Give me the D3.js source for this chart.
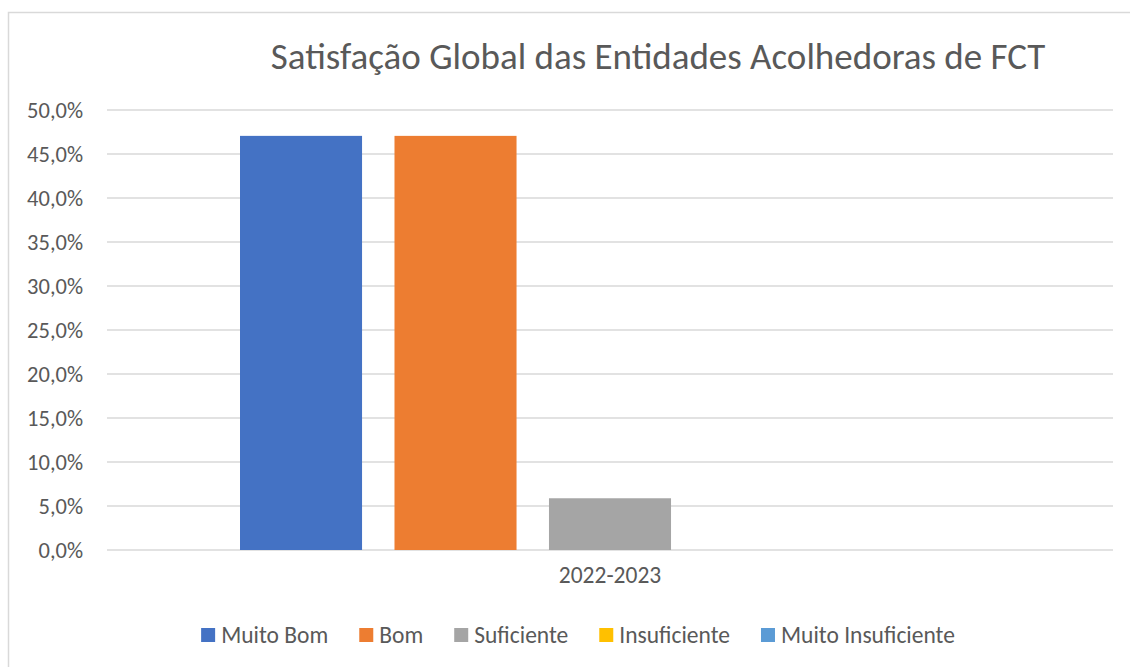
<!DOCTYPE html>
<html>
<head>
<meta charset="utf-8">
<script src="https://cdn.jsdelivr.net/npm/d3@7"></script>
<style>
  body { margin: 0; background: #fff; }
  svg { display: block; font-family: Carlito, Lato, "Open Sans", sans-serif; }
</style>
</head>
<body>
<div id="chart"></div>
<script>
const categories = ["2022-2023"];
const seriesNames = ["Muito Bom", "Bom", "Suficiente", "Insuficiente", "Muito Insuficiente"];
const seriesValues = [47.06, 47.06, 5.88, 0, 0];
const seriesColors = ["#4472C4", "#ED7D31", "#A5A5A5", "#FFC000", "#5B9BD5"];
const yTicks = [0, 5, 10, 15, 20, 25, 30, 35, 40, 45, 50];

const W = 1130, H = 667;
// plot area
const margin = { top: 110, right: 17, bottom: 117, left: 107 };
const width = W - margin.left - margin.right,
  height = H - margin.top - margin.bottom;

const svg = d3.select("#chart").append("svg")
  .attr("width", W)
  .attr("height", H);

// chart border
svg.append("rect")
  .attr("x", 8.5).attr("y", 12.5)
  .attr("width", 1140).attr("height", 680)
  .attr("fill", "none")
  .attr("stroke", "#d9d9d9")
  .attr("stroke-width", 1.5);

svg.append("text")
  .attr("x", 658).attr("y", 69)
  .attr("text-anchor", "middle")
  .attr("fill", "#595959")
  .style("font-size", "37px")
  .text("Satisfação Global das Entidades Acolhedoras de FCT");

const g = svg.append("g")
  .attr("transform", `translate(${margin.left},${margin.top})`);

const y = d3.scaleLinear().domain([0, 50]).range([height, 0]);

const x0 = d3.scaleBand()
  .domain(categories)
  .range([0, width])
  .paddingInner(0)
  .paddingOuter(133 / 740);

const x1 = d3.scaleBand()
  .domain(seriesNames)
  .range([0, x0.bandwidth()])
  .paddingInner(0.21)
  .paddingOuter(0);

// gridlines
g.append("g")
  .selectAll("line")
  .data(yTicks)
  .join("line")
  .attr("x1", 0).attr("x2", width)
  .attr("y1", d => y(d)).attr("y2", d => y(d))
  .attr("stroke", "#d9d9d9")
  .attr("stroke-width", 1.5);

// y axis labels
const fmt = d => d.toFixed(1).replace(".", ",") + "%";
const yAxis = g.append("g")
  .call(d3.axisLeft(y).tickValues(yTicks).tickFormat(fmt).tickSize(0).tickPadding(24))
  .attr("font-family", null)
  .attr("font-size", null);
yAxis.select(".domain").remove();
yAxis.selectAll("text")
  .attr("fill", "#595959")
  .style("font-size", "22.5px");

// bars
categories.forEach(cat => {
  g.append("g")
    .attr("transform", `translate(${x0(cat)},0)`)
    .selectAll("rect")
    .data(seriesNames.map((s, i) => ({ name: s, value: seriesValues[i], color: seriesColors[i] })))
    .join("rect")
    .attr("x", d => x1(d.name))
    .attr("width", x1.bandwidth())
    .attr("y", d => y(d.value))
    .attr("height", d => y(0) - y(d.value))
    .attr("fill", d => d.color);
});

// x axis labels
const xAxis = g.append("g")
  .attr("transform", `translate(0,${height})`)
  .call(d3.axisBottom(x0).tickSize(0).tickPadding(16))
  .attr("font-family", null)
  .attr("font-size", null);
xAxis.select(".domain").remove();
xAxis.selectAll("text")
  .attr("fill", "#595959")
  .style("font-size", "23.5px");

// legend
const legend = svg.append("g").attr("transform", "translate(0,635)");
const items = legend.selectAll("g")
  .data(seriesNames)
  .join("g");
items.append("rect")
  .attr("y", -7).attr("width", 14).attr("height", 14)
  .attr("fill", (d, i) => seriesColors[i]);
items.append("text")
  .attr("x", 20).attr("dy", "0.35em")
  .attr("fill", "#595959")
  .style("font-size", "23.5px")
  .text(d => d);

let xpos = 0;
const offsets = [];
items.each(function () {
  offsets.push(xpos);
  const tw = d3.select(this).select("text").node().getComputedTextLength();
  xpos += 20 + tw + 31;
});
const total = xpos - 31;
const start = 578 - total / 2;
items.attr("transform", (d, i) => `translate(${start + offsets[i]},0)`);
</script>
</body>
</html>
